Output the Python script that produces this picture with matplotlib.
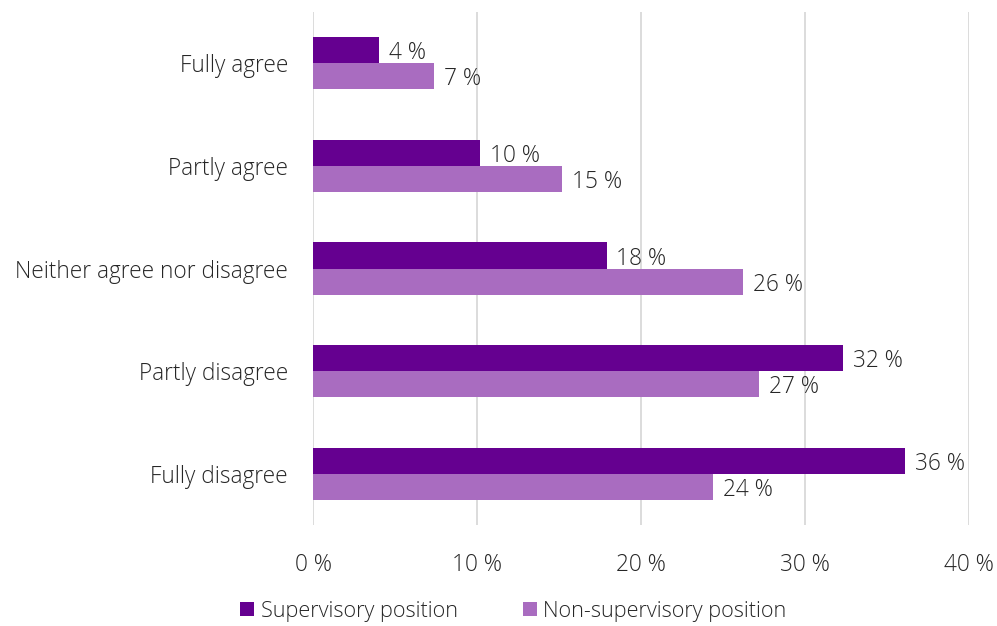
import numpy as np
import matplotlib.pyplot as plt

plt.rcParams['font.family'] = ['Open Sans', 'DejaVu Sans']
plt.rcParams['font.weight'] = 'light'

categories = ['Fully agree', 'Partly agree', 'Neither agree nor disagree',
              'Partly disagree', 'Fully disagree']
supervisory = [4.05, 10.2, 17.9, 32.3, 36.1]
non_supervisory = [7.4, 15.2, 26.2, 27.2, 24.4]
xticks = [0, 10, 20, 30, 40]

c_sup = '#650090'
c_non = '#A96CC0'
txt = '#262626'
fs = 16.3

fig = plt.figure(figsize=(9.97, 6.26), dpi=100)
ax = fig.add_axes([0.314, 0.161, 0.658, 0.82])

y = np.arange(len(categories))
h = 0.255
b1 = ax.barh(y - h / 2, supervisory, height=h, color=c_sup, label='Supervisory position', zorder=3)
b2 = ax.barh(y + h / 2, non_supervisory, height=h, color=c_non, label='Non-supervisory position', zorder=3)

for bars, vals in ((b1, supervisory), (b2, non_supervisory)):
    for bar, v in zip(bars, vals):
        ax.text(v + 0.6, bar.get_y() + bar.get_height() / 2 + 0.03, f'{round(v)} %',
                va='center', ha='left', fontsize=fs, color=txt)

ax.set_ylim(len(categories) - 0.5, -0.5)
ax.set_xlim(0, 40)
ax.set_yticks(y)
ax.set_yticklabels(categories, fontsize=fs, color=txt)
ax.set_xticks(xticks)
ax.set_xticklabels([f'{t} %' for t in xticks], fontsize=fs, color=txt)
ax.tick_params(axis='both', length=0)
ax.tick_params(axis='y', pad=18)
ax.tick_params(axis='x', pad=20)
ax.grid(axis='x', color='#d9d9d9', linewidth=1.3, zorder=0)
for s in ax.spines.values():
    s.set_visible(False)

ax.legend(loc='upper center', bbox_to_anchor=(0.305, -0.122), ncol=2, frameon=False,
          fontsize=15.6, handlelength=0.65, handleheight=0.65, handletextpad=0.3,
          columnspacing=3.0, labelcolor=txt, borderaxespad=0.2)

fig.savefig('out.png', dpi=100)
